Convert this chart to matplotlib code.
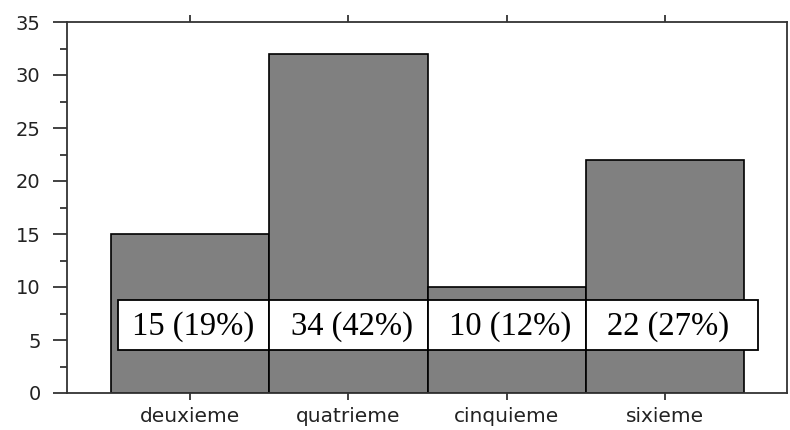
import numpy as np
from matplotlib import pyplot as plt
from matplotlib.patches import Rectangle
from matplotlib.ticker import MultipleLocator

categories = ['deuxieme', 'quatrieme', 'cinquieme', 'sixieme']
heights = [15, 32, 10, 22]
labels = ['15 (19%)', '34 (42%)', '10 (12%)', '22 (27%)']

fig = plt.figure(figsize=(7.9, 4.3), dpi=100)
ax = fig.add_axes([67/790, 37/430, 720/790, 371/430])

x = np.arange(len(categories))
ax.bar(x, heights, width=1.0, color='#808080', edgecolor='black', linewidth=1.2, zorder=2)

# label boxes across the bars
box_lo, box_hi = 4.05, 8.8
for i, lab in enumerate(labels):
	left = i - 0.5
	right = i + 0.5
	if i == 0:
		left = i - 0.455
	if i == len(labels) - 1:
		right = i + 0.59
	ax.add_patch(Rectangle((left, box_lo), right - left, box_hi - box_lo,
		facecolor='white', edgecolor='black', linewidth=1.3, zorder=3))
	ax.text(i + 0.02, (box_lo + box_hi) / 2 - 0.15, lab, ha='center', va='center',
		fontsize=23.5, family='Liberation Serif', zorder=4)

ax.set_xlim(-0.777, 3.77)
ax.set_ylim(0, 35)
ax.set_xticks(x)
ax.set_xticklabels(categories, fontsize=14.5, family='DejaVu Sans', color='#222222')
for t in ax.get_yticklabels():
	t.set_family('DejaVu Sans')
ax.yaxis.set_major_locator(MultipleLocator(5))
ax.yaxis.set_minor_locator(MultipleLocator(2.5))
ax.tick_params(axis='y', which='major', direction='out', length=10, width=1.3,
	labelsize=14, pad=9, colors='#333333', labelcolor='#222222')
ax.tick_params(axis='y', which='minor', direction='out', length=5, width=1.3, colors='#333333')
ax.tick_params(axis='x', which='major', direction='out', length=5, width=1.3,
	top=True, pad=5, colors='#333333', labelcolor='#222222')

for s in ax.spines.values():
	s.set_linewidth(1.3)
	s.set_color('#333333')

plt.savefig('out.png', dpi=100)
plt.close()
